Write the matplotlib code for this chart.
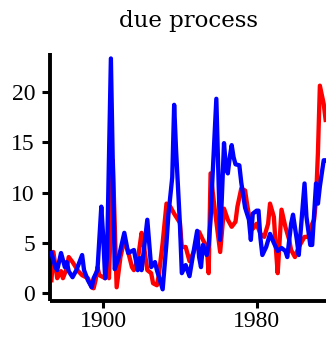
import matplotlib
matplotlib.use("Agg")
import matplotlib.pyplot as plt

title = "due process"

red_years = [1873, 1874, 1876, 1878, 1879, 1881, 1882, 1884, 1887, 1889, 1892, 1894, 1895,
             1896, 1897, 1898, 1901, 1902, 1903, 1905, 1907, 1909, 1911, 1913, 1915, 1916,
             1918, 1920, 1921, 1923, 1925, 1926, 1928, 1929, 1931, 1933, 1935, 1937, 1940,
             1941, 1943, 1945, 1947, 1949, 1950, 1952, 1954, 1955, 1956, 1958, 1961, 1963,
             1965, 1967, 1969, 1970, 1972, 1974, 1975, 1977, 1978, 1980, 1982, 1984, 1986,
             1987, 1989, 1990, 1991, 1993, 1995, 1997, 1998, 2000, 2002, 2005, 2007, 2009,
             2010, 2011, 2012, 2013, 2015, 2016]
red_values = [1.3, 4.1, 1.5, 2.2, 1.5, 2.5, 3.6, 3.1, 2.2, 1.8, 1.5, 0.6, 0.5,
              1.3, 2.6, 1.8, 1.5, 4.0, 1.5, 13.2, 0.6, 3.6, 5.3, 4.1, 2.6, 2.3,
              3.3, 6.0, 5.0, 2.3, 2.0, 1.0, 0.8, 1.8, 5.0, 8.9, 8.6, 7.9, 7.0,
              4.6, 4.6, 3.2, 4.0, 5.0, 6.1, 5.3, 4.6, 2.0, 11.9, 8.6, 4.1, 8.4,
              7.3, 6.6, 7.1, 8.6, 10.4, 10.2, 8.9, 6.6, 6.4, 6.9, 5.9, 5.6, 6.9,
              8.9, 7.6, 4.6, 2.0, 8.3, 6.6, 5.3, 4.3, 3.6, 4.6, 5.6, 5.6, 6.9,
              7.3, 9.3, 14.0, 20.6, 18.8, 17.2]

blue_years = [1873, 1875, 1876, 1878, 1880, 1881, 1882, 1884, 1886, 1889, 1890, 1892, 1894,
              1895, 1897, 1899, 1900, 1901, 1902, 1904, 1906, 1908, 1911, 1913, 1916, 1918,
              1919, 1920, 1923, 1925, 1927, 1928, 1931, 1933, 1934, 1936, 1937, 1938, 1940,
              1941, 1943, 1945, 1947, 1949, 1950, 1951, 1952, 1954, 1955, 1956, 1957, 1959,
              1961, 1963, 1964, 1965, 1966, 1967, 1968, 1969, 1971, 1972, 1974, 1976, 1977,
              1978, 1980, 1981, 1982, 1983, 1985, 1987, 1989, 1991, 1993, 1995, 1996, 1998,
              1999, 2001, 2002, 2005, 2006, 2008, 2009, 2011, 2012, 2013, 2015, 2016]
blue_values = [4.0, 2.6, 2.3, 4.0, 2.6, 3.1, 2.2, 1.6, 2.3, 3.8, 2.3, 1.3, 0.6,
               1.5, 2.3, 8.6, 5.6, 1.5, 3.6, 23.3, 2.4, 3.5, 6.0, 4.0, 4.3, 2.3,
               3.5, 2.3, 7.3, 2.6, 3.1, 2.3, 0.4, 5.0, 7.8, 11.5, 18.7, 14.2, 6.9,
               2.0, 2.8, 1.7, 4.0, 6.2, 3.6, 2.6, 4.8, 3.8, 4.8, 7.3, 11.5, 19.3,
               5.3, 14.9, 12.5, 11.9, 13.5, 14.7, 13.5, 12.8, 12.7, 11.0, 8.5, 7.3, 5.3,
               7.9, 8.2, 8.2, 5.5, 3.8, 4.6, 5.9, 5.0, 4.2, 4.5, 4.2, 3.6, 6.9,
               7.8, 5.3, 3.8, 10.9, 7.6, 4.8, 4.8, 10.9, 8.9, 10.6, 13.2, 13.2]

x_ticks = [1900, 1980]
y_ticks = [0, 5, 10, 15, 20]

W, H = 327, 345
fig = plt.figure(figsize=(W / 100, H / 100), dpi=100)
ax = fig.add_axes([50.3 / W, (H - 301) / H, (326 - 50.3) / W, (301 - 53) / H])

ax.plot(red_years, red_values, color="#ff0000", lw=3.1, solid_joinstyle="round", zorder=2)
ax.plot(blue_years, blue_values, color="#0000ff", lw=3.1, solid_joinstyle="round", zorder=3)

ax.set_xlim(1872.4, 2016.2)
ax.set_ylim(-0.76, 23.84)
ax.set_xticks(x_ticks)
ax.set_yticks(y_ticks)

for s in ["top", "right"]:
    ax.spines[s].set_visible(False)
for s in ["left", "bottom"]:
    ax.spines[s].set_linewidth(2.8)
    ax.spines[s].set_capstyle("butt")

ax.tick_params(axis="x", direction="out", length=5, width=2.2, pad=2)
ax.tick_params(axis="y", direction="out", length=6, width=2.2, pad=5)
for lab in ax.get_xticklabels() + ax.get_yticklabels():
    lab.set_fontfamily("Liberation Serif")
    lab.set_fontsize(17)

ax.set_title(title, family="DejaVu Serif", fontsize=16.5, pad=19)

fig.savefig("out.png", dpi=100)
